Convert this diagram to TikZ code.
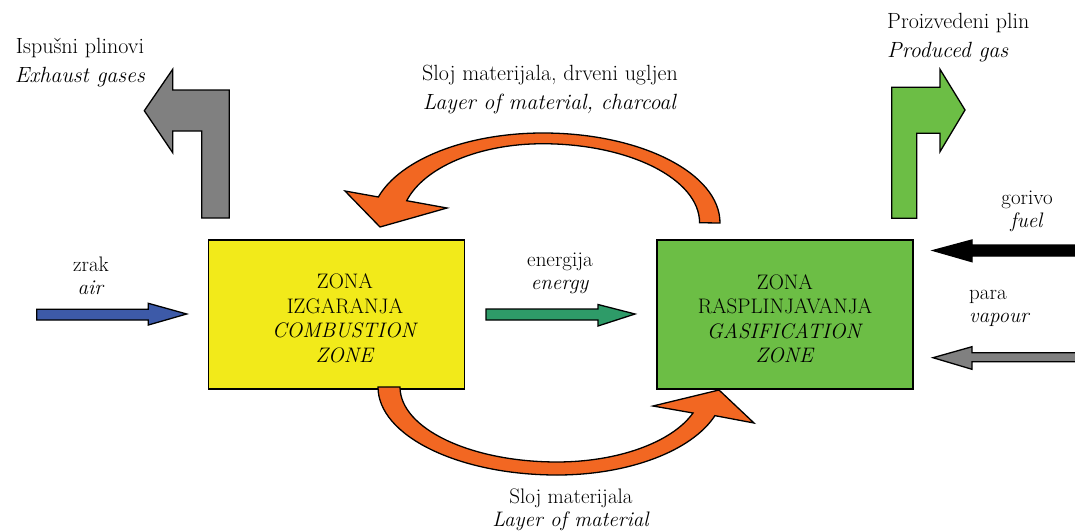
\documentclass[tikz,border=0pt]{standalone}
\definecolor{yelc}{RGB}{242,234,26}
\definecolor{grnc}{RGB}{108,190,69}
\definecolor{orgc}{RGB}{242,103,34}
\definecolor{gryc}{RGB}{128,128,128}
\definecolor{bluc}{RGB}{61,90,168}
\definecolor{engc}{RGB}{46,155,104}
\begin{document}
\begin{tikzpicture}[x=1pt,y=-1pt,
  zone/.style={draw=black, line width=1.4pt, inner sep=0pt, minimum width=256pt, minimum height=149pt},
  ztext/.style={align=center, inner sep=0pt, font=\fontsize{21}{24.5}\selectfont},
  lblw/.style={align=center, inner sep=0pt, font=\fontsize{22}{29}\selectfont},
  lbln/.style={align=center, inner sep=0pt, font=\fontsize{21}{23}\selectfont},
  blk/.style={draw=black, line width=1.3pt, line join=miter, miter limit=20}]
\useasboundingbox (0,0) rectangle (1075,530);

% zones
\node[zone, fill=yelc] (comb) at (336.5,314.5) {};
\node[zone, fill=grnc] (gas) at (785,314.5) {};
\node[ztext] (combt) at (345,318.5) {ZONA\\IZGARANJA\\\textit{COMBUSTION}\\\textit{ZONE}};
\node[ztext] (gast) at (785,319) {ZONA\\RASPLINJAVANJA\\\textit{GASIFICATION}\\\textit{ZONE}};

% exhaust bent arrow (gray)
\filldraw[blk, fill=gryc] (201.7,218) -- (229.3,218) -- (229.3,90) -- (172.7,90) -- (172.7,69.3)
  -- (144.3,110.7) -- (172.7,152.7) -- (172.7,131) -- (201.7,131) -- cycle;
% produced gas bent arrow (green)
\filldraw[blk, fill=grnc] (891.7,218.3) -- (916.7,218.3) -- (916.7,133.3) -- (940,133.3) -- (940,151.7)
  -- (965,110) -- (940,69.3) -- (940,87.3) -- (891.7,87.3) -- cycle;

% air arrow
\filldraw[blk, fill=bluc] (36.7,309.3) -- (148.3,309.3) -- (148.3,303.3) -- (186.7,314) -- (148.3,325)
  -- (148.3,320) -- (36.7,320) -- cycle;
% energy arrow
\filldraw[blk, fill=engc] (486,309) -- (598,309) -- (598,304.5) -- (635,314) -- (598,326)
  -- (598,320) -- (486,320) -- cycle;
% fuel arrow
\filldraw[blk, fill=black] (1080,245) -- (972,245) -- (972,240) -- (933,250.5) -- (972,261.7)
  -- (972,256) -- (1080,256) -- cycle;
% vapour arrow
\filldraw[blk, fill=gryc] (1080,352.7) -- (972,352.7) -- (972,346.7) -- (933,357.7) -- (972,369.3)
  -- (972,361.7) -- (1080,361.7) -- cycle;

% top curved arrow (gasification -> combustion)
\filldraw[blk, fill=orgc] (720,223) arc[start angle=0, end angle=-90, x radius=177, y radius=90]
  arc[start angle=-90, end angle=-163.2, x radius=172, y radius=90]
  -- (345,191) -- (380,227) -- (447,208) -- (406.7,200.7)
  arc[start angle=-163.8, end angle=-90, x radius=141.5, y radius=79]
  arc[start angle=-90, end angle=0, x radius=157, y radius=79] -- cycle;

% bottom curved arrow (combustion -> gasification)
\filldraw[blk, fill=orgc] (378,387) arc[start angle=180, end angle=90, x radius=179, y radius=88]
  arc[start angle=90, end angle=19, x radius=167, y radius=88]
  -- (754,423) -- (719,390) -- (653,406) -- (693,413)
  arc[start angle=20.3, end angle=90, x radius=145, y radius=75]
  arc[start angle=90, end angle=180, x radius=157, y radius=75] -- cycle;

% labels
\node[lblw] (exh) at (80,62.5) {Ispušni plinovi\\\textit{Exhaust gases}};
\node[lblw, align=left, anchor=west] (prod) at (887,38) {Proizvedeni plin\\\textit{Produced gas}};
\node[lblw] (ltop) at (550,89.5) {Sloj materijala, drveni ugljen\\\textit{Layer of material, charcoal}};
\node[lbln] (air) at (91,276) {zrak\\\textit{air}};
\node[lbln] (ener) at (560,273.5) {energija\\\textit{energy}};
\node[lbln] (fuel) at (1027,211.5) {gorivo\\\textit{fuel}};
\node[lbln, align=left, anchor=west] (vap) at (969,308.5) {para\\\textit{vapour}};
\node[lbln] (lbot) at (571,510) {Sloj materijala\\\textit{Layer of material}};
\end{tikzpicture}
\end{document}
